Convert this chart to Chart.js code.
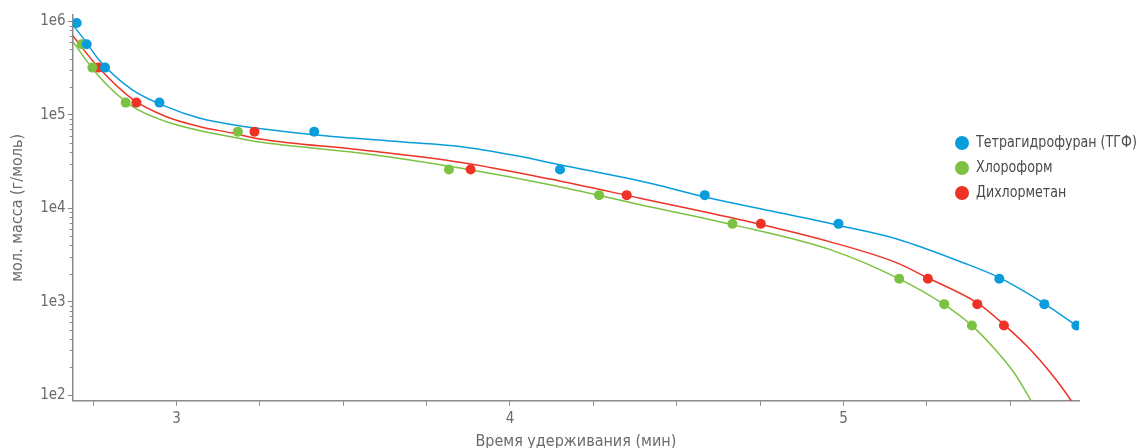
<!DOCTYPE html>
<html>
<head>
<meta charset="utf-8">
<script src="https://cdn.jsdelivr.net/npm/chart.js@4.4.0/dist/chart.umd.min.js"></script>
<style>
html, body { margin: 0; padding: 0; background: #fff; }
#wrap { width: 1138px; height: 448px; }
</style>
</head>
<body>
<div id="wrap"><canvas id="grafico"></canvas></div>
<script>
var seriesNames = ["Тетрагидрофуран (ТГФ)", "Хлороформ", "Дихлорметан"];
var seriesColors = ["#0a9ddc", "#7cc242", "#ee3226"];

// стандарты: время удерживания (мин) и мол. масса (г/моль)
var timeTHF = [2.701, 2.731, 2.786, 2.949, 3.413, 4.150, 4.584, 4.985, 5.467, 5.602, 5.698];
var massTHF = [960000, 570000, 320000, 135000, 66000, 26000, 13800, 6800, 1760, 940, 555];

var timeCHCl3 = [2.716, 2.748, 2.848, 3.184, 3.817, 4.267, 4.667, 5.167, 5.302, 5.385];
var massCHCl3 = [570000, 320000, 135000, 66000, 26000, 13800, 6800, 1760, 940, 555];

var timeDCM = [2.766, 2.880, 3.234, 3.882, 4.350, 4.752, 5.253, 5.401, 5.481];
var massDCM = [320000, 135000, 66000, 26000, 13800, 6800, 1760, 940, 555];

// калибровочные кривые
var fitTimeTHF = [2.689, 2.728, 2.768, 2.868, 2.968, 3.068, 3.168, 3.268, 3.412, 3.670, 3.850, 4.020, 4.150, 4.420, 4.584, 4.780, 4.990, 5.160, 5.359, 5.467, 5.602, 5.706];
var fitMassTHF = [918000, 608000, 387000, 185000, 123000, 92200, 78200, 70000, 61100, 51400, 45800, 36400, 29200, 18500, 13200, 9400, 6500, 4690, 2610, 1810, 953, 527];

var fitTimeCHCl3 = [2.689, 2.768, 2.868, 2.968, 3.068, 3.184, 3.250, 3.550, 3.850, 4.120, 4.390, 4.667, 4.960, 5.167, 5.302, 5.385, 5.460, 5.515, 5.560, 5.578];
var fitMassCHCl3 = [608000, 257000, 123000, 84700, 67900, 56300, 51000, 38900, 26900, 17800, 10900, 6670, 3600, 1750, 929, 553, 292, 166, 89.6, 70];

var fitTimeDCM = [2.689, 2.768, 2.868, 2.968, 3.068, 3.168, 3.250, 3.550, 3.850, 4.120, 4.390, 4.690, 4.960, 5.160, 5.253, 5.401, 5.481, 5.560, 5.620, 5.680, 5.698];
var fitMassDCM = [700000, 316000, 147000, 95900, 75000, 63700, 55000, 42200, 31000, 20500, 12800, 7540, 4360, 2600, 1790, 968, 567, 307, 174, 89.6, 70];

var xTicks = [2.75, 3, 3.25, 3.5, 3.75, 4, 4.25, 4.5, 4.75, 5, 5.25, 5.5];
var yTicks = [100, 1000, 10000, 100000, 1000000];

var fontFam = '"DejaVu Sans Condensed", "Liberation Sans Narrow", Roboto, sans-serif';
var axisColor = '#8a8a8a';
var textColor = '#6b6b6b';

function toPoints(xs, ys) {
    var pts = [];
    for (var i = 0; i < xs.length; i++) {
        pts.push({ x: xs[i], y: ys[i] });
    }
    return pts;
}

function dotSet(i, xs, ys) {
    return {
        label: seriesNames[i],
        data: toPoints(xs, ys),
        showLine: false,
        pointRadius: 5,
        pointHoverRadius: 5,
        pointBackgroundColor: seriesColors[i],
        pointBorderWidth: 0,
        order: 0
    };
}

function curveSet(i, xs, ys) {
    return {
        label: seriesNames[i] + " fit",
        data: toPoints(xs, ys),
        showLine: true,
        borderColor: seriesColors[i],
        borderWidth: 1.5,
        pointRadius: 0,
        cubicInterpolationMode: 'monotone',
        order: 1
    };
}

// легенда справа, поверх области графика
var legendaDerecha = {
    id: 'legendaDerecha',
    afterDraw: function (chart) {
        var ctx = chart.ctx;
        var area = chart.chartArea;
        var x0 = area.right - 117;
        var y0 = area.top + 128;
        ctx.save();
        ctx.font = '16px ' + fontFam;
        ctx.textBaseline = 'middle';
        for (var i = 0; i < seriesNames.length; i++) {
            var y = y0 + i * 25;
            ctx.beginPath();
            ctx.arc(x0, y, 7, 0, Math.PI * 2);
            ctx.fillStyle = seriesColors[i];
            ctx.fill();
            ctx.save();
            ctx.translate(x0 + 14, y);
            ctx.scale(0.88, 1);
            ctx.fillStyle = '#4a4a4a';
            ctx.fillText(seriesNames[i], 0, 0);
            ctx.restore();
        }
        ctx.restore();
    }
};

// мелкие засечки логарифмической шкалы
var minorTicks = {
    id: 'minorTicks',
    afterDraw: function (chart) {
        var ctx = chart.ctx;
        var ys = chart.scales.y;
        var left = chart.chartArea.left;
        ctx.save();
        ctx.strokeStyle = axisColor;
        ctx.lineWidth = 1;
        for (var d = 100; d < 1000000; d *= 10) {
            for (var k = 2; k <= 9; k++) {
                var py = Math.round(ys.getPixelForValue(d * k)) + 0.5;
                ctx.beginPath();
                ctx.moveTo(left - 3, py);
                ctx.lineTo(left, py);
                ctx.stroke();
            }
        }
        ctx.restore();
    }
};

var ctx = document.getElementById('grafico').getContext('2d');

var chart = new Chart(ctx, {
    type: 'scatter',
    data: {
        datasets: [
            dotSet(0, timeTHF, massTHF),
            dotSet(1, timeCHCl3, massCHCl3),
            dotSet(2, timeDCM, massDCM),
            curveSet(0, fitTimeTHF, fitMassTHF),
            curveSet(1, fitTimeCHCl3, fitMassCHCl3),
            curveSet(2, fitTimeDCM, fitMassDCM)
        ]
    },
    options: {
        responsive: true,
        maintainAspectRatio: false,
        animation: false,
        layout: { padding: { top: 15, right: 59, left: 0, bottom: 0 } },
        plugins: {
            legend: { display: false },
            tooltip: { enabled: false }
        },
        scales: {
            x: {
                type: 'linear',
                min: 2.689,
                max: 5.706,
                afterBuildTicks: function (scale) {
                    scale.ticks = xTicks.map(function (v) { return { value: v }; });
                },
                afterFit: function (scale) { scale.height = 47.3; },
                ticks: {
                    autoSkip: false,
                    maxRotation: 0,
                    padding: 4,
                    color: textColor,
                    font: { family: fontFam, size: 15 },
                    callback: function (v) { return Number.isInteger(v) ? String(v) : ''; }
                },
                grid: { drawOnChartArea: false, tickLength: 5, color: axisColor, tickWidth: 1 },
                border: { color: axisColor, width: 1.5 },
                title: {
                    display: true,
                    text: 'Время удерживания (мин)',
                    color: textColor,
                    font: { family: fontFam, size: 16 },
                    padding: { top: 0, bottom: -3 }
                }
            },
            y: {
                type: 'logarithmic',
                min: 87,
                max: 1170000,
                afterBuildTicks: function (scale) {
                    scale.ticks = yTicks.map(function (v) { return { value: v }; });
                },
                afterFit: function (scale) { scale.width = 72.7; },
                ticks: {
                    autoSkip: false,
                    padding: 2,
                    color: textColor,
                    font: { family: fontFam, size: 15 },
                    callback: function (v) { return '1e' + Math.round(Math.log10(v)); }
                },
                grid: { drawOnChartArea: false, tickLength: 5, color: axisColor, tickWidth: 1 },
                border: { color: axisColor, width: 1.5 },
                title: {
                    display: true,
                    text: 'мол. масса (г/моль)',
                    color: textColor,
                    font: { family: fontFam, size: 16 },
                    padding: { top: 8, bottom: 0 }
                }
            }
        }
    },
    plugins: [legendaDerecha, minorTicks]
});
</script>
</body>
</html>
